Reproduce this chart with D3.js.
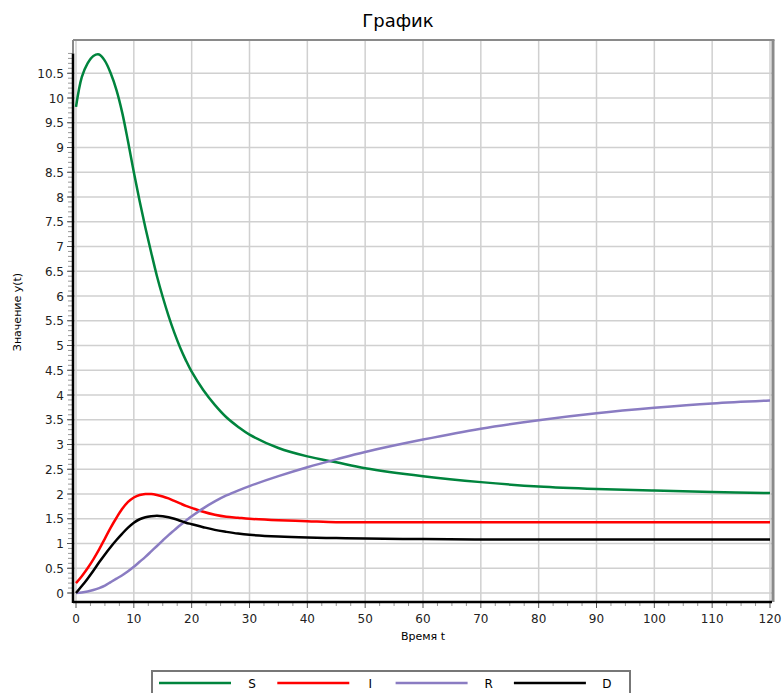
<!DOCTYPE html>
<html>
<head>
<meta charset="utf-8">
<script src="https://cdn.jsdelivr.net/npm/d3@7"></script>
<style>
  body { margin: 0; background: #fff; }
  text { font-family: "DejaVu Sans", sans-serif; }
</style>
</head>
<body>
<div id="chart"></div>
<script>
// values
const times = [0, 1, 2, 3, 4, 5, 6, 7, 8, 9, 10, 11, 12, 13, 14, 15, 16, 17, 18, 19, 20, 22, 24, 26, 28, 30, 35, 40, 45, 50, 60, 70, 80, 90, 100, 110, 120];
const sValues = [9.82, 10.42, 10.7, 10.85, 10.88, 10.75, 10.5, 10.16, 9.7, 9.12, 8.5, 7.92, 7.38, 6.88, 6.4, 5.98, 5.6, 5.26, 4.96, 4.7, 4.47, 4.1, 3.8, 3.55, 3.36, 3.2, 2.93, 2.76, 2.64, 2.52, 2.36, 2.24, 2.15, 2.1, 2.07, 2.04, 2.02];
const iValues = [0.2, 0.34, 0.5, 0.68, 0.88, 1.1, 1.32, 1.52, 1.7, 1.84, 1.93, 1.98, 2.0, 2.0, 1.98, 1.95, 1.91, 1.86, 1.81, 1.76, 1.72, 1.64, 1.58, 1.54, 1.52, 1.5, 1.47, 1.45, 1.43, 1.43, 1.43, 1.43, 1.43, 1.43, 1.43, 1.43, 1.43];
const rValues = [0, 0.01, 0.03, 0.06, 0.1, 0.15, 0.22, 0.29, 0.36, 0.44, 0.53, 0.63, 0.73, 0.84, 0.95, 1.06, 1.17, 1.27, 1.37, 1.46, 1.55, 1.71, 1.85, 1.97, 2.07, 2.16, 2.36, 2.54, 2.7, 2.85, 3.1, 3.32, 3.49, 3.63, 3.74, 3.83, 3.89];
const dValues = [0, 0.14, 0.29, 0.45, 0.62, 0.78, 0.93, 1.07, 1.2, 1.32, 1.42, 1.49, 1.53, 1.55, 1.56, 1.55, 1.53, 1.5, 1.46, 1.42, 1.39, 1.33, 1.275, 1.235, 1.2, 1.175, 1.14, 1.12, 1.11, 1.1, 1.09, 1.08, 1.08, 1.08, 1.08, 1.08, 1.08];

const seriesNames = ['S', 'I', 'R', 'D'];
const seriesColors = ['#00843d', '#ff0000', '#8a7cc2', '#000000'];
const seriesValues = [sValues, iValues, rValues, dValues];

const xTicks = d3.range(0, 121, 10);
const yTicks = d3.range(0, 10.51, 0.5);

const width = 783, height = 693;
const plot = { left: 73, top: 40, right: 773, bottom: 602 };

const svg = d3.select('#chart').append('svg')
  .attr('width', width)
  .attr('height', height);

const x = d3.scaleLinear().domain([0, 120]).range([76, 770]);
const y = d3.scaleLinear().domain([0, 10.5]).range([593, 73.25]);

// grid
svg.append('g').selectAll('line')
  .data(xTicks)
  .enter().append('line')
  .attr('x1', d => x(d)).attr('x2', d => x(d))
  .attr('y1', plot.top).attr('y2', plot.bottom)
  .attr('stroke', '#d0d0d0').attr('stroke-width', 1.5);

svg.append('g').selectAll('line')
  .data(yTicks)
  .enter().append('line')
  .attr('x1', plot.left).attr('x2', plot.right)
  .attr('y1', d => y(d)).attr('y2', d => y(d))
  .attr('stroke', '#d0d0d0').attr('stroke-width', 1.5);

// plot frame
svg.append('line')
  .attr('x1', plot.left).attr('x2', plot.right + 1.5)
  .attr('y1', plot.top).attr('y2', plot.top)
  .attr('stroke', '#8a8a8a').attr('stroke-width', 2);
svg.append('line')
  .attr('x1', plot.right).attr('x2', plot.right)
  .attr('y1', plot.top).attr('y2', plot.bottom)
  .attr('stroke', '#8a8a8a').attr('stroke-width', 3);
svg.append('line')
  .attr('x1', plot.left).attr('x2', plot.left)
  .attr('y1', plot.top).attr('y2', y(10.9))
  .attr('stroke', '#8a8a8a').attr('stroke-width', 2);

// y axis: minor ticks every 0.1, labels every 0.5
const yMinor = d3.range(0, 10.91, 0.1);
svg.append('g').selectAll('line')
  .data(yMinor)
  .enter().append('line')
  .attr('x1', plot.left - 5).attr('x2', plot.left)
  .attr('y1', d => y(d)).attr('y2', d => y(d))
  .attr('stroke', '#999').attr('stroke-width', 1);

svg.append('g').selectAll('line')
  .data(yTicks)
  .enter().append('line')
  .attr('x1', plot.left - 6).attr('x2', plot.left)
  .attr('y1', d => y(d)).attr('y2', d => y(d))
  .attr('stroke', '#555').attr('stroke-width', 1);

svg.append('g').selectAll('text')
  .data(yTicks)
  .enter().append('text')
  .attr('x', 64)
  .attr('y', d => y(d) + 4.5)
  .attr('text-anchor', 'end')
  .style('font-size', '12px')
  .attr('fill', '#222')
  .text(d => d3.format('~g')(d));

svg.append('line')
  .attr('x1', plot.left).attr('x2', plot.left)
  .attr('y1', y(10.9)).attr('y2', plot.bottom + 1)
  .attr('stroke', '#000').attr('stroke-width', 2.5);

// x axis: minor ticks every 2.5, labels every 10
const xMinor = d3.range(0, 120.1, 2.5);
svg.append('g').selectAll('line')
  .data(xMinor)
  .enter().append('line')
  .attr('x1', d => x(d)).attr('x2', d => x(d))
  .attr('y1', plot.bottom).attr('y2', d => plot.bottom + (d % 10 === 0 ? 6 : 4))
  .attr('stroke', d => d % 10 === 0 ? '#555' : '#999').attr('stroke-width', 1);

svg.append('g').selectAll('text')
  .data(xTicks)
  .enter().append('text')
  .attr('x', d => x(d))
  .attr('y', 623)
  .attr('text-anchor', 'middle')
  .style('font-size', '12px')
  .attr('fill', '#222')
  .text(d => d);

svg.append('line')
  .attr('x1', plot.left).attr('x2', plot.right - 1)
  .attr('y1', plot.bottom).attr('y2', plot.bottom)
  .attr('stroke', '#000').attr('stroke-width', 2.5);

// series
const line = d3.line()
  .x(d => x(d[0]))
  .y(d => y(d[1]))
  .curve(d3.curveCatmullRom.alpha(0.5));

seriesValues.forEach((vals, i) => {
  svg.append('path')
    .datum(times.map((t, k) => [t, vals[k]]))
    .attr('fill', 'none')
    .attr('stroke', seriesColors[i])
    .attr('stroke-width', 2.5)
    .attr('stroke-linejoin', 'round')
    .attr('d', line);
});

// titles
svg.append('text')
  .attr('x', 398).attr('y', 27)
  .attr('text-anchor', 'middle')
  .style('font-size', '18px')
  .attr('fill', '#000')
  .text('График');

svg.append('text')
  .attr('x', (plot.left + plot.right) / 2).attr('y', 640)
  .attr('text-anchor', 'middle')
  .style('font-size', '11px')
  .attr('fill', '#000')
  .text('Время t');

svg.append('text')
  .attr('transform', 'translate(21,312) rotate(-90)')
  .attr('text-anchor', 'middle')
  .style('font-size', '11px')
  .attr('fill', '#000')
  .text('Значение y(t)');

// legend
const legend = svg.append('g');
legend.append('rect')
  .attr('x', 152).attr('y', 671)
  .attr('width', 478).attr('height', 40)
  .attr('fill', '#fff')
  .attr('stroke', '#777').attr('stroke-width', 2);

const entry = legend.selectAll('g')
  .data(seriesNames)
  .enter().append('g')
  .attr('transform', (d, i) => `translate(${159 + i * 118.3},683)`);

entry.append('line')
  .attr('x1', 0).attr('x2', 72)
  .attr('y1', 0).attr('y2', 0)
  .attr('stroke', (d, i) => seriesColors[i])
  .attr('stroke-width', 2.5);

entry.append('text')
  .attr('x', 93).attr('y', 5)
  .attr('text-anchor', 'middle')
  .style('font-size', '12px')
  .attr('fill', '#000')
  .text(d => d);
</script>
</body>
</html>
